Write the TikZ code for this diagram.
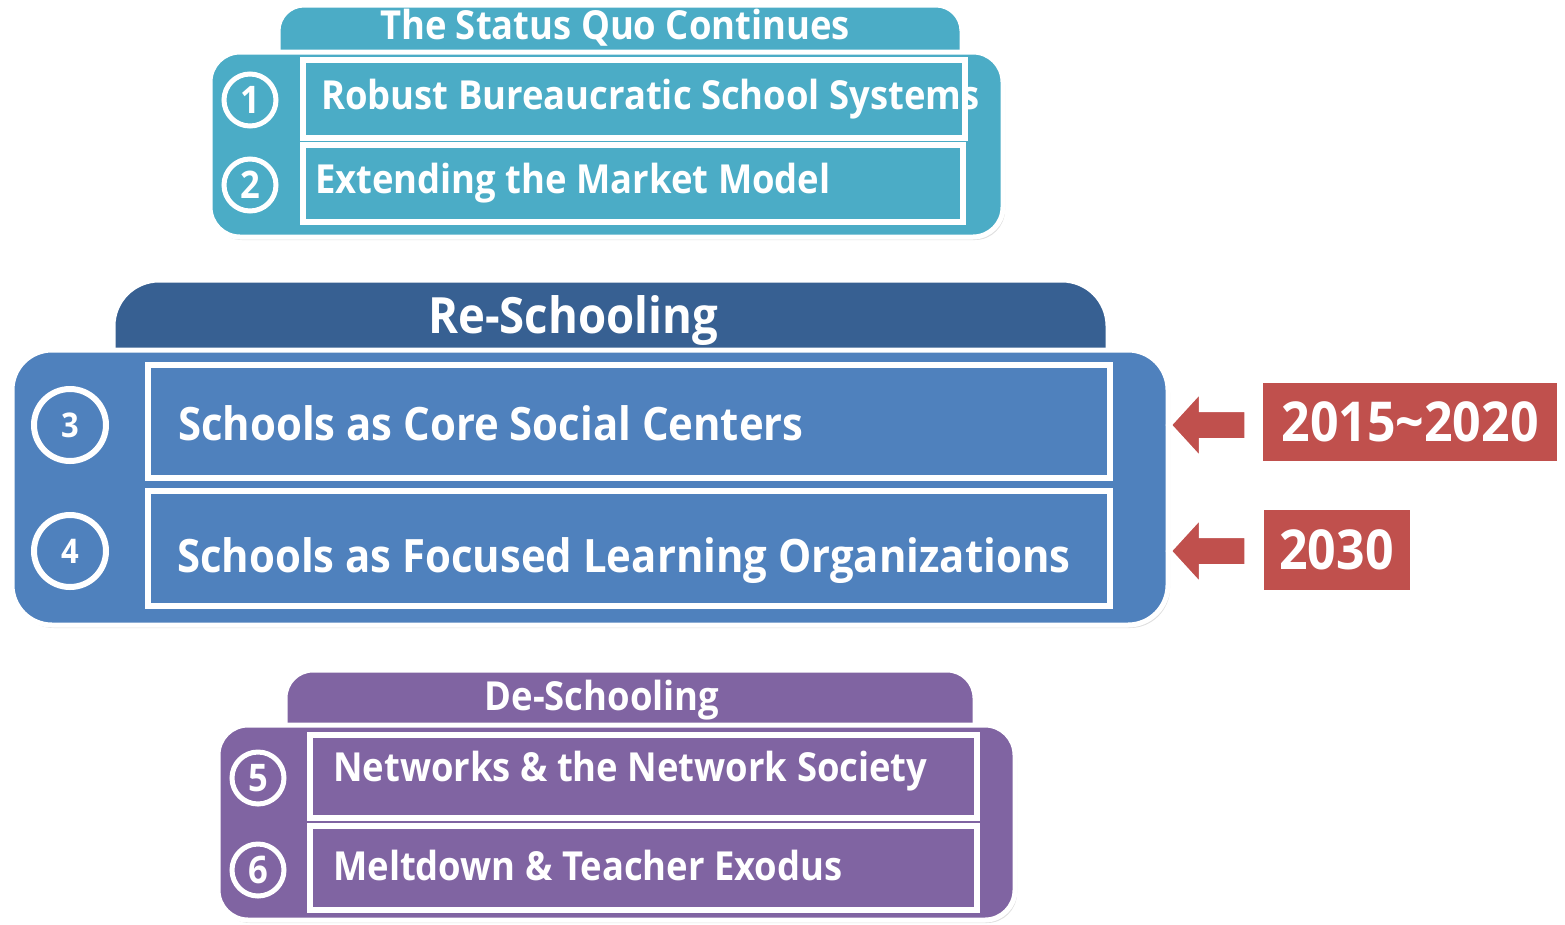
\documentclass[tikz,border=0pt]{standalone}
\usepackage{fontspec}
\setmainfont{Open Sans}[FakeStretch=0.91]
\usetikzlibrary{shapes.arrows,shadows}
\definecolor{quoteal}{HTML}{4BACC6}
\definecolor{reschdark}{HTML}{376092}
\definecolor{reschblue}{HTML}{4F81BD}
\definecolor{yearred}{HTML}{C0504D}
\definecolor{deschpurple}{HTML}{8064A2}
\begin{document}
\begin{tikzpicture}[x=1pt,y=-1pt,
    tab/.style={rectangle, draw=white, line width=5pt, rounded corners=26pt, inner sep=0pt},
    group/.style={rectangle, draw=white, line width=5pt, rounded corners=30pt, inner sep=0pt,
      drop shadow={opacity=0.25, shadow xshift=2pt, shadow yshift=-3pt}},
    itembox/.style={rectangle, draw=white, line width=6pt, inner sep=0pt,
      drop shadow={opacity=0.25, shadow xshift=2pt, shadow yshift=-3pt}},
    numring/.style={circle, draw=white, line width=5pt, inner sep=0pt, text=white, font=\bfseries\fontsize{38}{44}\selectfont},
    yearbox/.style={rectangle, draw=white, line width=6pt, fill=yearred, inner sep=0pt, text=white,
      font=\bfseries\fontsize{55}{60}\selectfont,
      drop shadow={opacity=0.25, shadow xshift=2pt, shadow yshift=-3pt}},
    yeararrow/.style={single arrow, shape border rotate=180, draw=white, line width=5pt, fill=yearred,
      inner sep=13pt, single arrow head extend=20pt, single arrow tip angle=95, minimum height=78pt,
      drop shadow={opacity=0.2, shadow xshift=1pt, shadow yshift=-2pt}},
    label/.style={text=white, inner sep=0pt, font=\bfseries\fontsize{40}{48}\selectfont},
    biglabel/.style={text=white, inner sep=0pt, font=\bfseries\fontsize{46}{54}\selectfont}]
    \useasboundingbox (0,0) rectangle (1565,924);

    \node[tab, fill=quoteal, minimum width=684pt, minimum height=75pt] (quotab) at (620,42.5) {};
    \node[group, fill=quoteal, minimum width=793pt, minimum height=185pt] (quogrp) at (606.5,144.5) {};
    \node[label] (quotitle) at (615,28) {The Status Quo Continues};
    \node[itembox, fill=quoteal, minimum width=662pt, minimum height=78pt] (sc1) at (634,99) {};
    \node[itembox, fill=quoteal, minimum width=660pt, minimum height=77pt] (sc2) at (633,183.5) {};
    \node[numring, fill=quoteal, minimum size=52pt] (n1) at (250,100) {1};
    \node[numring, fill=quoteal, minimum size=52pt] (n2) at (250,185) {2};
    \node[label, anchor=west] (t1) at (321,99) {Robust Bureaucratic School Systems};
    \node[label, anchor=west] (t2) at (315,183) {Extending the Market Model};

    \node[tab, fill=reschdark, rounded corners=46pt, minimum width=995pt, minimum height=120pt] (restab) at (610.5,340) {};
    \node[group, fill=reschblue, rounded corners=40pt, minimum width=1156pt, minimum height=275pt] (resgrp) at (590,487.5) {};
    \node[biglabel, font=\bfseries\fontsize{50}{58}\selectfont] (restitle) at (573,321) {Re-Schooling};
    \node[itembox, fill=reschblue, minimum width=962pt, minimum height=113pt] (sc3) at (629,421.5) {};
    \node[itembox, fill=reschblue, minimum width=962pt, minimum height=115pt] (sc4) at (629,548.5) {};
    \node[numring, fill=reschblue, line width=6pt, minimum size=72pt, font=\bfseries\fontsize{34}{40}\selectfont] (n3) at (70,425) {3};
    \node[numring, fill=reschblue, line width=6pt, minimum size=72pt, font=\bfseries\fontsize{34}{40}\selectfont] (n4) at (70,551) {4};
    \node[biglabel, anchor=west] (t3) at (178,423) {Schools as Core Social Centers};
    \node[biglabel, anchor=west] (t4) at (177,561) {Schools as Focused Learning Organizations};

    \node[yearbox, minimum width=300pt, minimum height=84pt] (y1) at (1410,421.5) {2015\textasciitilde 2020};
    \node[yearbox, minimum width=152pt, minimum height=86pt] (y2) at (1336.5,550) {2030};
    \node[yeararrow] (a1) at (1215,425) {};
    \node[yeararrow] (a2) at (1215,551) {};

    \node[tab, fill=deschpurple, rounded corners=28pt, minimum width=690pt, minimum height=90pt] (destab) at (630,715) {};
    \node[group, fill=deschpurple, minimum width=797pt, minimum height=195pt] (desgrp) at (616.5,822.5) {};
    \node[label] (destitle) at (602,700) {De-Schooling};
    \node[itembox, fill=deschpurple, minimum width=667pt, minimum height=83pt] (sc5) at (643.5,776.5) {};
    \node[itembox, fill=deschpurple, minimum width=667pt, minimum height=84pt] (sc6) at (643.5,868) {};
    \node[numring, fill=deschpurple, minimum size=52pt] (n5) at (258,778) {5};
    \node[numring, fill=deschpurple, minimum size=52pt] (n6) at (258,870) {6};
    \node[label, anchor=west] (t5) at (333,771) {Networks \& the Network Society};
    \node[label, anchor=west] (t6) at (333,865) {Meltdown \& Teacher Exodus};
\end{tikzpicture}
\end{document}
